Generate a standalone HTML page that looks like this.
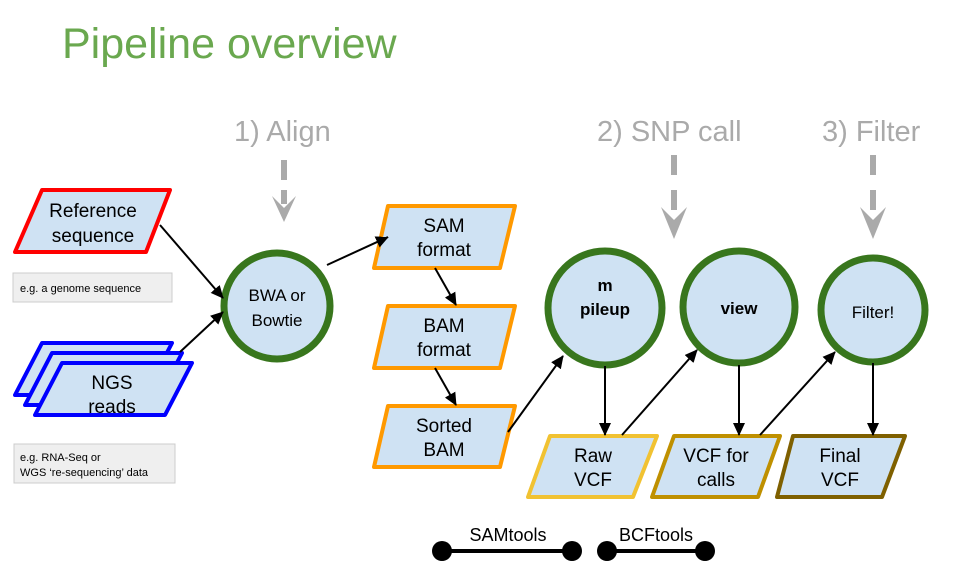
<!DOCTYPE html>
<html><head><meta charset="utf-8"><style>
html,body{margin:0;padding:0;background:#fff;}
svg{display:block;}
text{font-family:"Liberation Sans",Arial,sans-serif;}
</style></head><body>
<svg width="973" height="588" viewBox="0 0 973 588" xmlns="http://www.w3.org/2000/svg">
<defs>
<marker id="ah" markerWidth="13" markerHeight="12" refX="12" refY="6" orient="auto" markerUnits="userSpaceOnUse">
<path d="M0,0 L13,6 L0,12 Z" fill="#000"/></marker>
</defs>
<text x="62" y="58" font-size="43" fill="#6aa84f">Pipeline overview</text>

<g font-size="29" fill="#aaaaaa">
<text x="234" y="141">1) Align</text>
<text x="597" y="141">2) SNP call</text>
<text x="822" y="141">3) Filter</text>
</g>
<g fill="#aaaaaa">
<rect x="281" y="160" width="6" height="20"/><rect x="281" y="190" width="6" height="14"/>
<path d="M272,196 L284,208 L296,196 L284,222 Z"/>
<rect x="671" y="155" width="6" height="20"/><rect x="671" y="190" width="6" height="20"/>
<path d="M661,207 L674,220 L687,207 L674,239 Z"/>
<rect x="870" y="155" width="6" height="20"/><rect x="870" y="190" width="6" height="20"/>
<path d="M860,207 L873,220 L886,207 L873,239 Z"/>
</g>

<!-- Reference -->
<path d="M42,190 L170,190 L146,252 L15,252 Z" fill="#cfe2f3" stroke="#ff0000" stroke-width="4" stroke-linejoin="round"/>
<text x="93" y="217" font-size="19" text-anchor="middle">Reference</text>
<text x="93" y="242" font-size="19" text-anchor="middle">sequence</text>
<rect x="13" y="273" width="159" height="29" fill="#efefef" stroke="#cccccc"/>
<text x="20" y="292" font-size="11">e.g. a genome sequence</text>

<!-- NGS -->
<g fill="#cfe2f3" stroke="#0000ff" stroke-width="4" stroke-linejoin="round">
<path d="M42,343 L172,343 L145,395 L15,395 Z"/>
<path d="M52,353 L182,353 L155,405 L25,405 Z"/>
<path d="M62,363 L192,363 L165,415 L35,415 Z"/>
</g>
<text x="112" y="389" font-size="19" text-anchor="middle">NGS</text>
<text x="112" y="413" font-size="19" text-anchor="middle">reads</text>
<rect x="14" y="444" width="161" height="39" fill="#efefef" stroke="#cccccc"/>
<text x="20" y="461" font-size="11">e.g. RNA-Seq or</text>
<text x="20" y="476" font-size="11">WGS ‘re-sequencing’ data</text>

<!-- circles -->
<g fill="#cfe2f3" stroke="#38761d" stroke-width="7">
<circle cx="277" cy="306" r="53"/>
<circle cx="605" cy="308" r="57"/>
<circle cx="739" cy="307" r="56"/>
<circle cx="873" cy="310" r="52"/>
</g>
<text x="277" y="301" font-size="17" text-anchor="middle">BWA or</text>
<text x="277" y="326" font-size="17" text-anchor="middle">Bowtie</text>
<text x="605" y="291" font-size="17" font-weight="bold" text-anchor="middle">m</text>
<text x="605" y="315" font-size="17" font-weight="bold" text-anchor="middle">pileup</text>
<text x="739" y="314" font-size="17" font-weight="bold" text-anchor="middle">view</text>
<text x="873" y="318" font-size="17" text-anchor="middle">Filter!</text>

<!-- SAM/BAM -->
<g fill="#cfe2f3" stroke="#ff9900" stroke-width="4" stroke-linejoin="round">
<path d="M388,206 L515,206 L500,268 L374,268 Z"/>
<path d="M388,306 L515,306 L500,368 L374,368 Z"/>
<path d="M388,406 L515,406 L500,467 L374,467 Z"/>
</g>
<g font-size="19" text-anchor="middle">
<text x="444" y="232">SAM</text><text x="444" y="256">format</text>
<text x="444" y="332">BAM</text><text x="444" y="356">format</text>
<text x="444" y="432">Sorted</text><text x="444" y="456">BAM</text>
</g>

<!-- VCFs -->
<path d="M550,436 L657,436 L633,497 L528,497 Z" fill="#cfe2f3" stroke="#f1c232" stroke-width="4" stroke-linejoin="round"/>
<path d="M674,436 L780,436 L758,497 L652,497 Z" fill="#cfe2f3" stroke="#bf9000" stroke-width="4" stroke-linejoin="round"/>
<path d="M793,436 L905,436 L882,497 L777,497 Z" fill="#cfe2f3" stroke="#7f6000" stroke-width="4" stroke-linejoin="round"/>
<g font-size="19" text-anchor="middle">
<text x="593" y="462">Raw</text><text x="593" y="486">VCF</text>
<text x="716" y="462">VCF for</text><text x="716" y="486">calls</text>
<text x="840" y="462">Final</text><text x="840" y="486">VCF</text>
</g>

<!-- arrows -->
<g stroke="#000" stroke-width="2" fill="none" marker-end="url(#ah)">
<line x1="160" y1="225" x2="223" y2="298"/>
<line x1="180" y1="352" x2="223" y2="312"/>
<line x1="327" y1="265" x2="388" y2="237"/>
<line x1="435" y1="268" x2="456" y2="305"/>
<line x1="435" y1="368" x2="456" y2="405"/>
<line x1="508" y1="432" x2="563" y2="356"/>
<line x1="605" y1="366" x2="605" y2="435"/>
<line x1="739" y1="365" x2="739" y2="435"/>
<line x1="873" y1="363" x2="873" y2="435"/>
<line x1="622" y1="435" x2="697" y2="350"/>
<line x1="760" y1="435" x2="835" y2="352"/>
</g>

<!-- legend -->
<line x1="442" y1="551" x2="572" y2="551" stroke="#000" stroke-width="4"/>
<circle cx="442" cy="551" r="10"/><circle cx="572" cy="551" r="10"/>
<text x="508" y="541" font-size="18" text-anchor="middle">SAMtools</text>
<line x1="607" y1="551" x2="705" y2="551" stroke="#000" stroke-width="4"/>
<circle cx="607" cy="551" r="10"/><circle cx="705" cy="551" r="10"/>
<text x="656" y="541" font-size="18" text-anchor="middle">BCFtools</text>
</svg>
</body></html>
